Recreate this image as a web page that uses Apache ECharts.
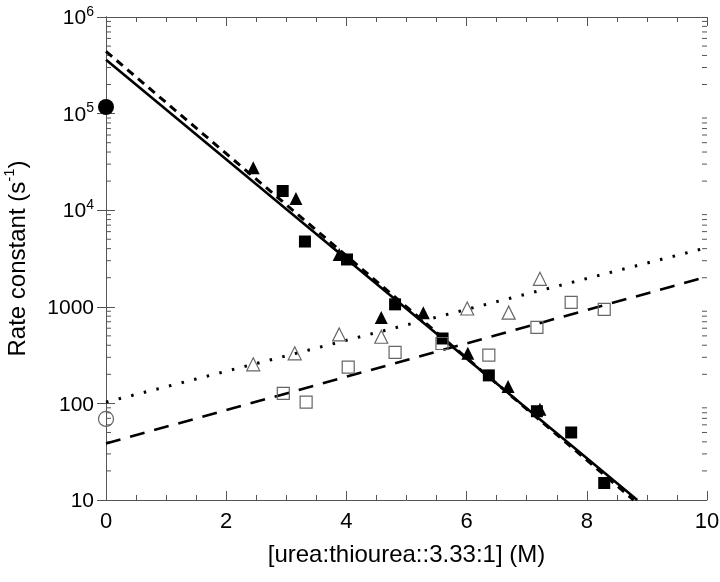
<!DOCTYPE html>
<html><head><meta charset="utf-8">
<script src="https://cdn.jsdelivr.net/npm/echarts@6/dist/echarts.min.js"></script>
<style>html,body{margin:0;padding:0;background:#fff}#c{width:720px;height:582px}</style>
</head><body><div id="c"></div>
<script>
// Data
const filledCircle = [[0, 117000]];
const openCircle = [[0, 69]];
const filledTriangles = [[2.45, 27500], [3.16, 13200], [3.88, 3480], [4.58, 776], [5.28, 870], [6.02, 330], [6.69, 150], [7.22, 87]];
const filledSquares = [[2.94, 15800], [3.31, 4740], [4.01, 3090], [4.81, 1060], [5.6, 470], [6.37, 195], [7.17, 83], [7.74, 50], [8.29, 15]];
const openTriangles = [[2.45, 254], [3.14, 330], [3.88, 518], [4.58, 490], [6.01, 960], [6.7, 870], [7.22, 1950]];
const openSquares = [[2.95, 127], [3.33, 103], [4.03, 237], [4.81, 337], [5.59, 417], [6.37, 316], [7.17, 613], [7.74, 1110], [8.29, 940]];
const solidFit = [[0, 360000], [8.84, 10]];
const dashFit = [[0, 440000], [8.78, 10]];
const dotFit = [[0, 103], [10, 4100]];
const longDashFit = [[0, 38.5], [10, 2050]];
const xTickInterval = 2;
const yMinorMultipliers = [2, 3, 4, 5, 6, 7, 8, 9];
const yDecades = [10, 100, 1000, 10000, 100000];
const yMinorTicks = [];
yDecades.forEach(d => yMinorMultipliers.forEach(m => yMinorTicks.push(m * d)));

const chart = echarts.init(document.getElementById('c'), null, {renderer: 'canvas'});
const axisCol = '#555';
const font = 'Liberation Sans, Arial, sans-serif';

function yLabel(v) {
  const e = Math.round(Math.log10(v));
  if (e >= 4) return '{b|10}{s|' + e + '}';
  return '{b|' + Math.round(v) + '}';
}
const richY = {
  b: {fontSize: 21, fontFamily: font, color: '#000', lineHeight: 24, verticalAlign: 'bottom'},
  s: {fontSize: 14, fontFamily: font, color: '#000', lineHeight: 24, verticalAlign: 'top', padding: [0, 0, 10, 0]}
};

function minorTickSeries(side) {
  return {
    type: 'custom',
    silent: true,
    xAxisIndex: 0, yAxisIndex: 0,
    data: yMinorTicks.map(v => [side === 'left' ? 0 : 10, v]),
    clip: false,
    renderItem: function (params, api) {
      const p = api.coord([api.value(0), api.value(1)]);
      const dx = side === 'left' ? 5 : -5;
      return {type: 'line', shape: {x1: p[0], y1: p[1], x2: p[0] + dx, y2: p[1]},
        style: {stroke: axisCol, lineWidth: 1}};
    },
    z: 1
  };
}

const openStyle = {color: 'rgba(0,0,0,0)', borderColor: '#666', borderWidth: 1.2, opacity: 1};
const fillStyle = {color: '#000', opacity: 1};

chart.setOption({
  animation: false,
  grid: {left: 106, right: 13, top: 17, bottom: 82, containLabel: false, outerBoundsMode: 'none'},
  xAxis: [{
    type: 'value', min: 0, max: 10, interval: xTickInterval, position: 'bottom',
    name: '[urea:thiourea::3.33:1] (M)', nameLocation: 'middle', nameGap: 43,
    nameTextStyle: {fontSize: 24, fontFamily: font, color: '#000'},
    axisLine: {show: true, onZero: false, lineStyle: {color: axisCol}},
    axisTick: {show: true, inside: true, length: 9, lineStyle: {color: axisCol}},
    minorTick: {show: true, splitNumber: 4, length: 5, lineStyle: {color: axisCol}},
    axisLabel: {fontSize: 22, fontFamily: font, color: '#000', margin: 11},
    splitLine: {show: false}
  }, {
    type: 'value', min: 0, max: 10, interval: xTickInterval, position: 'top',
    axisLine: {show: true, lineStyle: {color: axisCol}},
    axisTick: {show: true, inside: true, length: 9, lineStyle: {color: axisCol}},
    minorTick: {show: true, splitNumber: 4, length: 5, lineStyle: {color: axisCol}},
    axisLabel: {show: false}, splitLine: {show: false}
  }],
  yAxis: [{
    type: 'log', logBase: 10, min: 10, max: 1000000, position: 'left',
    name: '{n|Rate constant (s}{sup|-1}{n|)}', nameLocation: 'middle', nameGap: 76, nameRotate: 90,
    nameTextStyle: {fontSize: 24, fontFamily: font, color: '#000',
      rich: {
        n: {fontSize: 24, fontFamily: font, color: '#000', lineHeight: 28, verticalAlign: 'bottom'},
        sup: {fontSize: 15, fontFamily: font, color: '#000', lineHeight: 15, verticalAlign: 'top'}
      }},
    axisLine: {show: true, lineStyle: {color: axisCol}},
    axisTick: {show: true, inside: true, length: 9, lineStyle: {color: axisCol}},
    axisLabel: {formatter: yLabel, rich: richY, margin: 12},
    splitLine: {show: false}
  }, {
    type: 'log', logBase: 10, min: 10, max: 1000000, position: 'right',
    axisLine: {show: true, lineStyle: {color: axisCol}},
    axisTick: {show: true, inside: true, length: 9, lineStyle: {color: axisCol}},
    axisLabel: {show: false}, splitLine: {show: false}
  }],
  series: [
    minorTickSeries('left'), minorTickSeries('right'),
    {type: 'line', data: solidFit, showSymbol: false, lineStyle: {color: '#000', width: 2.6}, z: 3},
    {type: 'line', data: dashFit, showSymbol: false, lineStyle: {color: '#000', width: 3, type: [8, 6]}, z: 3},
    {type: 'line', data: dotFit, showSymbol: false, lineStyle: {color: '#000', width: 3, type: [2.5, 10.5]}, z: 3},
    {type: 'line', data: longDashFit, showSymbol: false, lineStyle: {color: '#000', width: 2.6, type: [15, 10]}, z: 3},
    {type: 'scatter', data: filledSquares, symbol: 'rect', symbolSize: 12, itemStyle: fillStyle, z: 4, clip: false},
    {type: 'scatter', data: filledTriangles, symbol: 'triangle', symbolSize: 13, itemStyle: fillStyle, z: 4, clip: false},
    {type: 'scatter', data: openSquares, symbol: 'rect', symbolSize: 12, itemStyle: openStyle, z: 4, clip: false},
    {type: 'scatter', data: openTriangles, symbol: 'triangle', symbolSize: 13, itemStyle: openStyle, z: 4, clip: false},
    {type: 'scatter', data: filledCircle, symbol: 'circle', symbolSize: 16, itemStyle: fillStyle, z: 4, clip: false},
    {type: 'scatter', data: openCircle, symbol: 'circle', symbolSize: 15, itemStyle: openStyle, z: 4, clip: false}
  ]
});
</script></body></html>
